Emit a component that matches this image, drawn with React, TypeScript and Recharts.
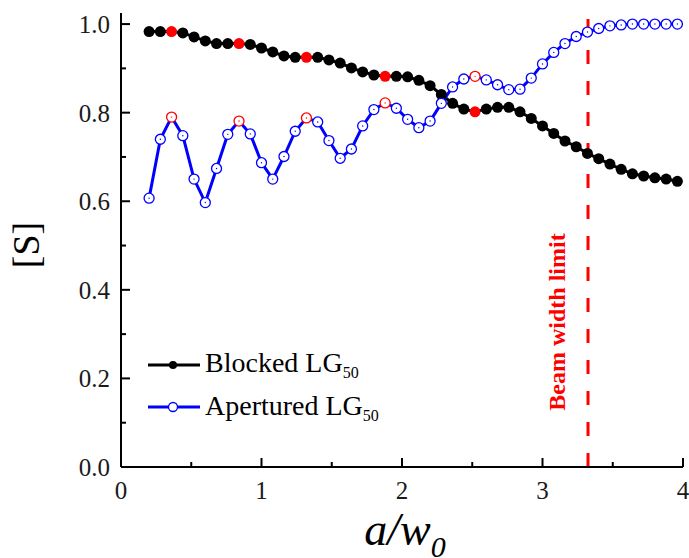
import { ComposedChart, Line, XAxis, YAxis, ReferenceLine, Legend } from "recharts"

// a/w0 sample positions
const xs = [
  0.2, 0.28, 0.36, 0.44, 0.52, 0.6, 0.68, 0.76, 0.84, 0.92,
  1.0, 1.08, 1.16, 1.24, 1.32, 1.4, 1.48, 1.56, 1.64, 1.72,
  1.8, 1.88, 1.96, 2.04, 2.12, 2.2, 2.28, 2.36, 2.44, 2.52,
  2.6, 2.68, 2.76, 2.84, 2.92, 3.0, 3.08, 3.16, 3.24, 3.32,
  3.4, 3.48, 3.56, 3.64, 3.72, 3.8, 3.88, 3.96,
]

const blocked = [
  0.983, 0.983, 0.983, 0.98, 0.971, 0.962, 0.956, 0.956, 0.956, 0.954,
  0.946, 0.937, 0.928, 0.925, 0.925, 0.925, 0.919, 0.912, 0.901, 0.892,
  0.885, 0.882, 0.882, 0.881, 0.873, 0.861, 0.841, 0.821, 0.808, 0.802,
  0.808, 0.812, 0.812, 0.802, 0.787, 0.77, 0.753, 0.736, 0.723, 0.708,
  0.696, 0.684, 0.672, 0.662, 0.657, 0.653, 0.65, 0.645,
]

const apertured = [
  0.607, 0.74, 0.79, 0.748, 0.65, 0.597, 0.674, 0.751, 0.781, 0.752,
  0.687, 0.65, 0.701, 0.758, 0.788, 0.779, 0.737, 0.697, 0.718, 0.77,
  0.807, 0.822, 0.81, 0.785, 0.766, 0.781, 0.821, 0.858, 0.876, 0.882,
  0.874, 0.863, 0.852, 0.853, 0.878, 0.91, 0.936, 0.956, 0.972, 0.982,
  0.99, 0.996, 0.998, 1.0, 1.0, 1.0, 1.0, 1.0,
]

// points drawn in red on both curves
const highlightIdx = [2, 8, 14, 21, 29]

const xTicks = [0, 0.5, 1, 1.5, 2, 2.5, 3, 3.5, 4]
const yTicks = [0, 0.1, 0.2, 0.3, 0.4, 0.5, 0.6, 0.7, 0.8, 0.9, 1.0]
const beamLimit = 3.324

const rows = xs.map((x, i) => ({ x, blocked: blocked[i], apertured: apertured[i] }))

const FONT = "'Liberation Serif', 'Times New Roman', serif"
const BLUE = "#0000ff"
const RED = "#ff0000"

const isMajorX = (v: number) => Math.abs(v - Math.round(v)) < 1e-6
const isMajorY = (v: number) => Math.round(v * 10) % 2 === 0

function BottomTick(props: any) {
  const { x, y, payload } = props
  const major = isMajorX(payload.value)
  return (
    <g>
      <line x1={x} y1={y} x2={x} y2={y - (major ? 9 : 5)} stroke="#000" strokeWidth={2} />
      {major && (
        <text x={x} y={y + 32} textAnchor="middle" fontFamily={FONT} fontSize={25} fill="#1a1a1a">
          {payload.value}
        </text>
      )}
    </g>
  )
}

function TopTick(props: any) {
  const { x, y, payload } = props
  const major = isMajorX(payload.value)
  return <line x1={x} y1={y} x2={x} y2={y + (major ? 9 : 5)} stroke="#000" strokeWidth={2} />
}

function LeftTick(props: any) {
  const { x, y, payload } = props
  const major = isMajorY(payload.value)
  return (
    <g>
      <line x1={x} y1={y} x2={x + (major ? 9 : 5)} y2={y} stroke="#000" strokeWidth={2} />
      {major && (
        <text x={x - 11} y={y + 9} textAnchor="end" fontFamily={FONT} fontSize={25} fill="#1a1a1a">
          {payload.value.toFixed(1)}
        </text>
      )}
    </g>
  )
}

function RightTick(props: any) {
  const { x, y, payload } = props
  const major = isMajorY(payload.value)
  return <line x1={x} y1={y} x2={x - (major ? 9 : 5)} y2={y} stroke="#000" strokeWidth={2} />
}

function BlockedDot(props: any) {
  const { cx, cy, index } = props
  const c = highlightIdx.includes(index) ? RED : "#000"
  return <circle key={`b${index}`} cx={cx} cy={cy} r={5.5} fill={c} stroke="none" />
}

function AperturedDot(props: any) {
  const { cx, cy, index } = props
  const c = highlightIdx.includes(index) ? RED : BLUE
  return (
    <g key={`a${index}`}>
      <circle cx={cx} cy={cy} r={5} fill="#fff" stroke={c} strokeWidth={1.3} />
      <circle cx={cx} cy={cy} r={0.7} fill={c} />
    </g>
  )
}

function LegendBox() {
  return (
    <svg width={300} height={90} style={{ display: "block" }}>
      <line x1={18} y1={25} x2={70} y2={25} stroke="#000" strokeWidth={3} />
      <circle cx={43} cy={25} r={4} fill="#000" />
      <text x={75} y={32} fontFamily={FONT} fontSize={28} fill="#000">
        Blocked LG<tspan dy={6} fontSize={16}>50</tspan>
      </text>
      <line x1={18} y1={67} x2={70} y2={67} stroke={BLUE} strokeWidth={3} />
      <circle cx={43} cy={67} r={4.5} fill="#fff" stroke={BLUE} strokeWidth={1.3} />
      <text x={75} y={75} fontFamily={FONT} fontSize={28} fill="#000">
        Apertured LG<tspan dy={6} fontSize={16}>50</tspan>
      </text>
    </svg>
  )
}

export default function App() {
  return (
    <div style={{ position: "absolute", left: 0, top: 0, width: 689, height: 558, background: "#fff" }}>
      <ComposedChart width={689} height={558} data={rows} margin={{ top: 13, right: 6, bottom: 0, left: 0 }}>
        <XAxis
          xAxisId="b"
          type="number"
          dataKey="x"
          domain={[0, 4]}
          ticks={xTicks}
          interval={0}
          allowDataOverflow
          height={91}
          axisLine={{ stroke: "#000", strokeWidth: 2 }}
          tickLine={false}
          tickSize={0}
          tickMargin={0}
          tick={<BottomTick />}
          label={{
            content: () => (
              <text x={405} y={545} textAnchor="middle" fontFamily={FONT} fontStyle="italic" fontSize={46} fill="#000">
                a/w<tspan dy={12} fontSize={30}>0</tspan>
              </text>
            ),
          }}
        />
        <XAxis
          xAxisId="t"
          orientation="top"
          type="number"
          dataKey="x"
          domain={[0, 4]}
          ticks={xTicks}
          interval={0}
          allowDataOverflow
          height={0}
          axisLine={{ stroke: "#000", strokeWidth: 2 }}
          tickLine={false}
          tickSize={0}
          tickMargin={0}
          tick={<TopTick />}
        />
        <YAxis
          yAxisId="l"
          type="number"
          domain={[0, 1.025]}
          ticks={yTicks}
          interval={0}
          allowDataOverflow
          width={121}
          axisLine={{ stroke: "#000", strokeWidth: 2 }}
          tickLine={false}
          tickSize={0}
          tickMargin={0}
          tick={<LeftTick />}
          label={{
            content: () => (
              <text
                x={39}
                y={245}
                textAnchor="middle"
                transform="rotate(-90 39 245)"
                fontFamily={FONT}
                fontSize={38}
                fill="#000"
              >
                [S]
              </text>
            ),
          }}
        />
        <YAxis
          yAxisId="r"
          orientation="right"
          type="number"
          domain={[0, 1.025]}
          ticks={yTicks}
          interval={0}
          allowDataOverflow
          width={0}
          axisLine={{ stroke: "#000", strokeWidth: 2 }}
          tickLine={false}
          tickSize={0}
          tickMargin={0}
          tick={<RightTick />}
        />
        <ReferenceLine
          xAxisId="b"
          yAxisId="l"
          x={beamLimit}
          stroke={RED}
          strokeWidth={3}
          strokeDasharray="14 17"
          label={{
            content: () => (
              <text
                x={565}
                y={322}
                textAnchor="middle"
                transform="rotate(-90 565 322)"
                fontFamily={FONT}
                fontWeight="bold"
                fontSize={24}
                fill={RED}
              >
                Beam width limit
              </text>
            ),
          }}
        />
        <Line
          xAxisId="b"
          yAxisId="l"
          dataKey="blocked"
          stroke="#000"
          strokeWidth={3}
          dot={<BlockedDot />}
          activeDot={false}
          isAnimationActive={false}
        />
        <Line
          xAxisId="b"
          yAxisId="l"
          dataKey="apertured"
          stroke={BLUE}
          strokeWidth={3}
          dot={<AperturedDot />}
          activeDot={false}
          isAnimationActive={false}
        />
        <Legend
          layout="vertical"
          align="center"
          verticalAlign="middle"
          content={() => <LegendBox />}
          wrapperStyle={{ position: "absolute", left: 130, top: 340, width: 300, height: 90 }}
        />
      </ComposedChart>
    </div>
  )
}
